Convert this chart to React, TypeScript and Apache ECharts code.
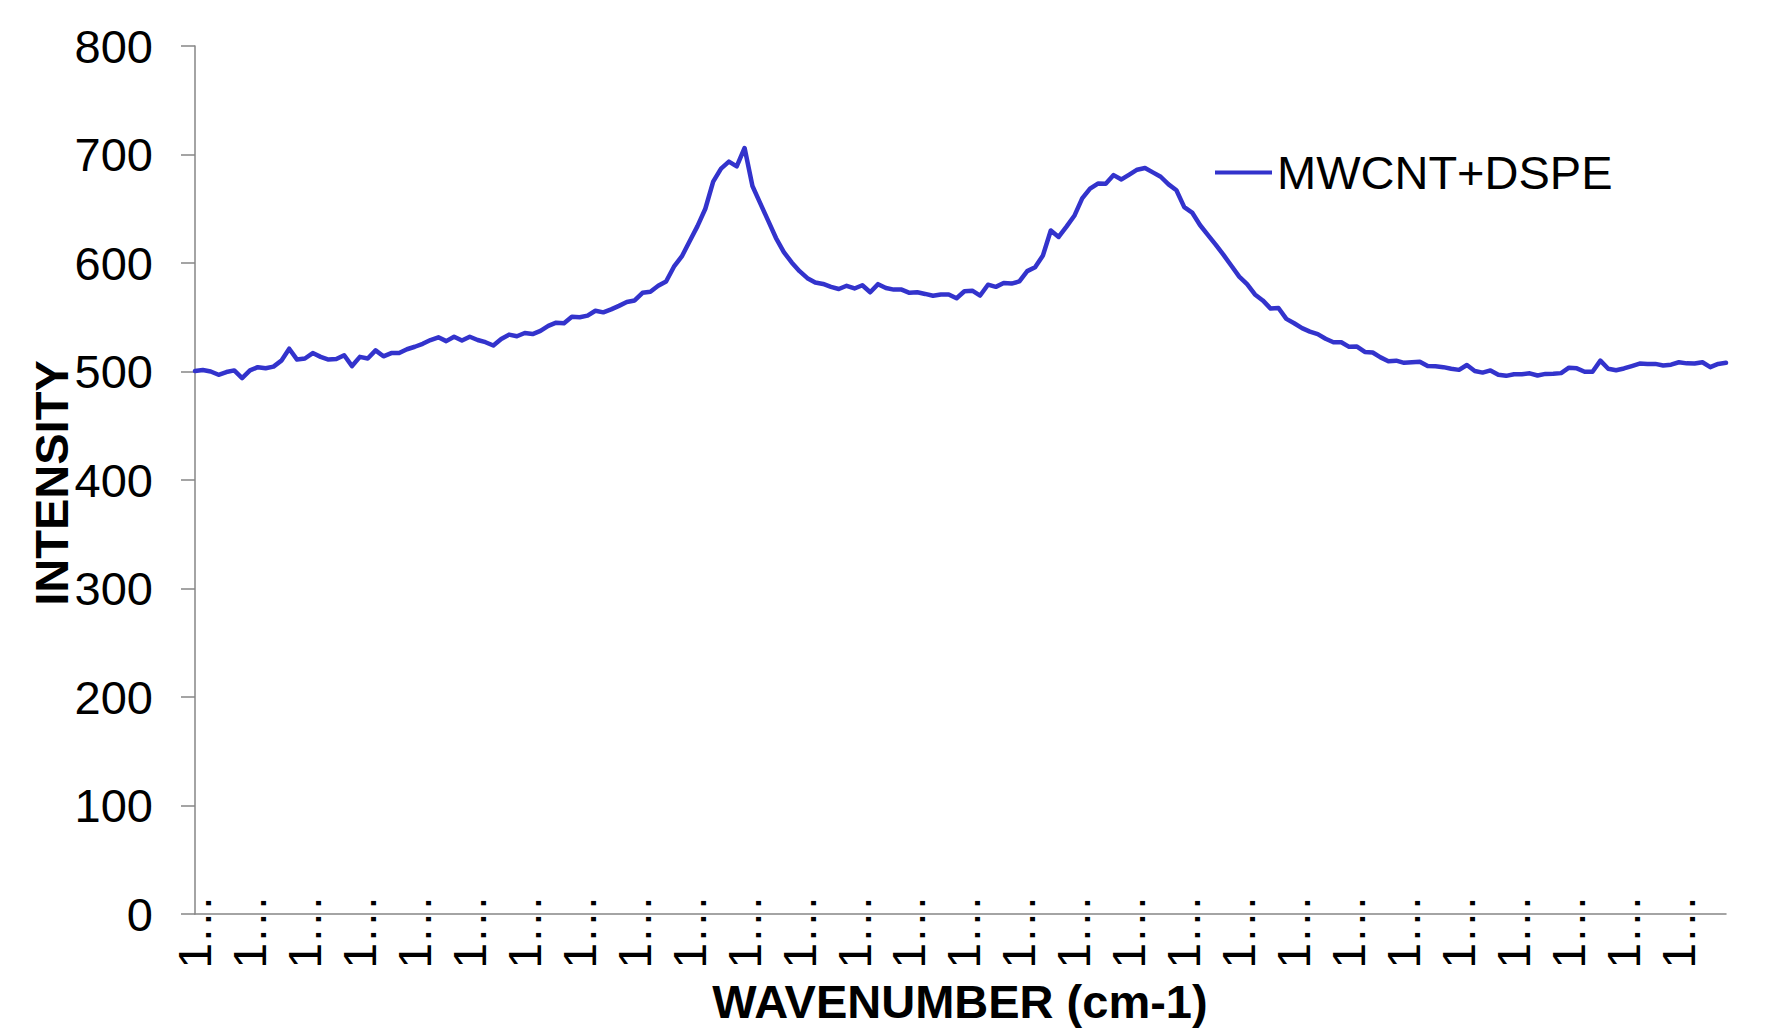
import React, { useEffect, useRef } from "react";
import * as echarts from "echarts";

const seriesName = "MWCNT+DSPE";
const xTitle = "WAVENUMBER (cm-1)";
const yTitle = "INTENSITY";
const tickLabelText = "1...";
const yTicks = { min: 0, max: 800, interval: 100 };

const intensity: number[] = [
  500.5, 501.4, 500, 497, 499.5, 501, 494, 501, 504, 503,
  504.5, 510, 521, 511, 512, 517, 513.5, 511, 511.5, 515,
  505, 513.5, 512, 519.5, 514, 517, 517, 520.5, 522.8, 525.5,
  529, 531.5, 528, 532, 528.5, 532, 529, 527, 524, 530,
  534, 532.5, 535.5, 534.5, 537.5, 542, 545, 544.5, 550.5, 550,
  551.5, 556, 554.5, 557.3, 560.5, 564, 565.5, 572.5, 573.5, 579,
  583, 596.6, 606, 620, 634, 650, 675, 687, 693.4, 689,
  706, 671, 655, 639, 623, 610, 600.5, 592.5, 586, 582,
  580.7, 578, 576, 579, 576.5, 579.5, 573, 580.5, 577, 575.5,
  575.5, 572.5, 573, 571.5, 569.8, 571, 571, 567.5, 574, 574.5,
  570, 580, 578, 581.5, 581, 583, 592.5, 596, 607, 630,
  624, 633.5, 643.5, 659.5, 668.5, 673.2, 673, 681, 677, 681.5,
  686, 687.5, 683.5, 679.5, 672.5, 667, 651.5, 646.5, 635, 626,
  617, 607.5, 597.5, 587.5, 580.5, 571, 565.5, 558, 558.5, 548.5,
  544.5, 540, 536.8, 534.5, 530.2, 527, 527, 522.7, 523, 518,
  517.5, 513, 509.5, 510, 508, 508.5, 509, 505, 504.8, 504,
  502.5, 501.5, 506, 500.5, 499, 501, 497, 496, 497.5, 497.4,
  498.3, 496.3, 497.8, 498, 498.5, 503.5, 502.9, 499.8, 499.8, 510,
  502.5, 501.2, 502.8, 505, 507.3, 507, 507, 505.5, 506.3, 508.5,
  507.5, 507.3, 508.5, 504, 507, 508,
];

const categories: string[] = intensity.map((_, i) => String(i + 1));

const FONT = 'Arial, "Liberation Sans", Helvetica, sans-serif';
const LINE_COLOR = "#3333CC";
const AXIS_COLOR = "#868686";

export default function App() {
  const ref = useRef<HTMLDivElement>(null);

  useEffect(() => {
    if (!ref.current) return;
    document.body.style.margin = "0";
    const chart = echarts.init(ref.current, null, { renderer: "svg" });
    const [first, ...rest] = tickLabelText.split("");
    chart.setOption({
      animation: false,
      backgroundColor: "#ffffff",
      grid: { left: 195, right: 46, top: 46, bottom: 122, containLabel: false },
      legend: {
        data: [seriesName],
        left: 1215,
        top: 149,
        padding: 0,
        icon: "rect",
        itemWidth: 57,
        itemHeight: 4,
        textStyle: { fontSize: 47, fontFamily: FONT, color: "#000" },
      },
      xAxis: {
        type: "category",
        data: categories,
        boundaryGap: false,
        axisLine: { show: true, lineStyle: { color: AXIS_COLOR, width: 1.5 } },
        axisTick: { show: false },
        splitLine: { show: false },
        axisLabel: {
          interval: 6,
          rotate: 90,
          margin: -19,
          fontSize: 46,
          fontFamily: FONT,
          color: "#000",
          formatter: () =>
            "{n|" + first + "}" + rest.map((c) => "{p|" + c + "}").join(""),
          rich: {
            n: { fontSize: 46, fontFamily: FONT, color: "#000" },
            p: { fontSize: 46, fontFamily: FONT, color: "#000", width: 16, align: "center" },
          },
        },
      },
      yAxis: {
        type: "value",
        min: yTicks.min,
        max: yTicks.max,
        interval: yTicks.interval,
        axisLine: { show: true, lineStyle: { color: AXIS_COLOR, width: 1.5 } },
        axisTick: { show: true, length: 14, lineStyle: { color: AXIS_COLOR, width: 1.5 } },
        splitLine: { show: false },
        axisLabel: { margin: 42, fontSize: 47, fontFamily: FONT, color: "#000" },
      },
      graphic: [
        {
          type: "text",
          x: 960,
          y: 1001,
          style: {
            text: xTitle,
            font: `bold 47px ${FONT}`,
            fill: "#000",
            textAlign: "center",
            textVerticalAlign: "middle",
          },
        },
        {
          type: "text",
          x: 51,
          y: 483,
          rotation: Math.PI / 2,
          style: {
            text: yTitle,
            font: `bold 47px ${FONT}`,
            fill: "#000",
            textAlign: "center",
            textVerticalAlign: "middle",
          },
        },
      ],
      series: [
        {
          name: seriesName,
          type: "line",
          data: intensity,
          showSymbol: false,
          symbol: "none",
          lineStyle: { color: LINE_COLOR, width: 4.5, cap: "round", join: "round" },
          itemStyle: { color: LINE_COLOR },
        },
      ],
    });
    return () => chart.dispose();
  }, []);

  return (
    <div
      ref={ref}
      style={{ position: "fixed", left: 0, top: 0, width: 1772, height: 1036 }}
    />
  );
}
